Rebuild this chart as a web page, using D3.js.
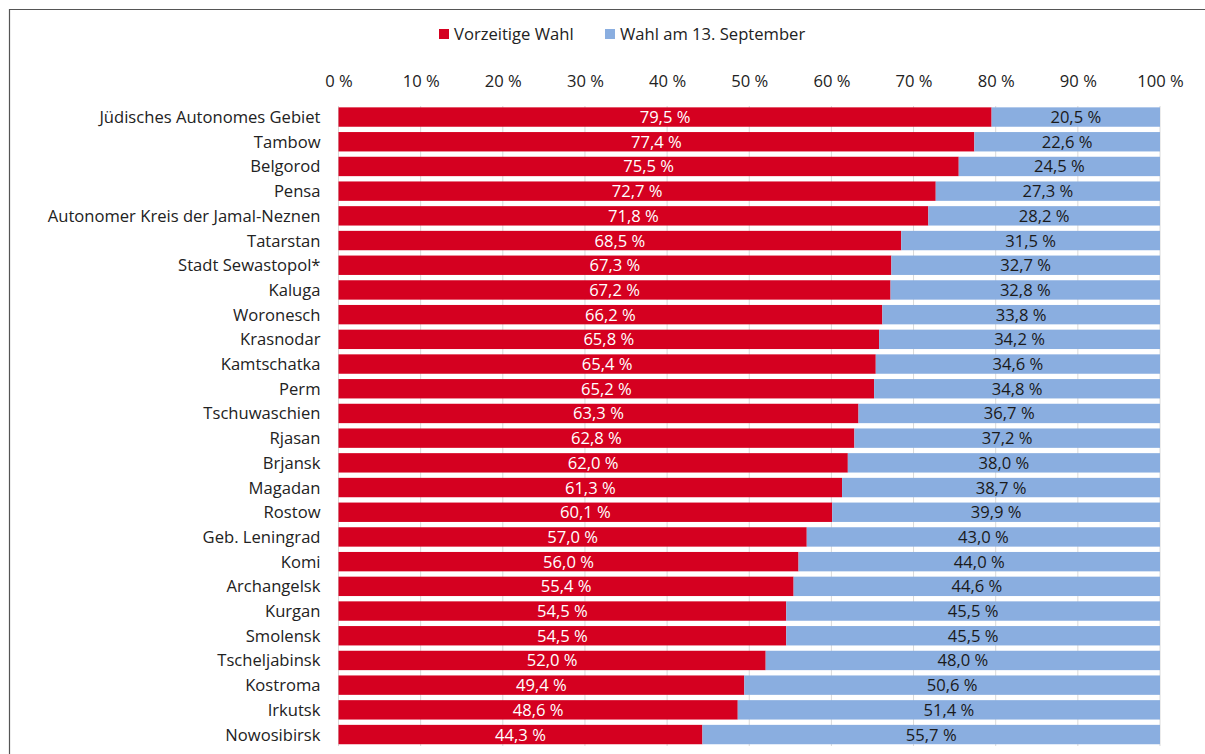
<!DOCTYPE html>
<html><head><meta charset="utf-8">
<script src="https://cdn.jsdelivr.net/npm/d3@7"></script>
<style>
html,body{margin:0;padding:0;background:#fff;}
svg{display:block;font-family:"Open Sans","Noto Sans",sans-serif;}
</style></head>
<body>
<svg id="chart" width="1205" height="754"></svg>
<script>
const categories = ["Jüdisches Autonomes Gebiet","Tambow","Belgorod","Pensa","Autonomer Kreis der Jamal-Neznen","Tatarstan","Stadt Sewastopol*","Kaluga","Woronesch","Krasnodar","Kamtschatka","Perm","Tschuwaschien","Rjasan","Brjansk","Magadan","Rostow","Geb. Leningrad","Komi","Archangelsk","Kurgan","Smolensk","Tscheljabinsk","Kostroma","Irkutsk","Nowosibirsk"];
const vorzeitig = [79.5,77.4,75.5,72.7,71.8,68.5,67.3,67.2,66.2,65.8,65.4,65.2,63.3,62.8,62.0,61.3,60.1,57.0,56.0,55.4,54.5,54.5,52.0,49.4,48.6,44.3];
const september = [20.5,22.6,24.5,27.3,28.2,31.5,32.7,32.8,33.8,34.2,34.6,34.8,36.7,37.2,38.0,38.7,39.9,43.0,44.0,44.6,45.5,45.5,48.0,50.6,51.4,55.7];
const seriesNames = ["Vorzeitige Wahl","Wahl am 13. September"];
const tickValues = [0,10,20,30,40,50,60,70,80,90,100];

const colors = ["#d50020","#8aaee0"];
const FS = 16.6;
const svg = d3.select("#chart");

// frame
svg.append("path").attr("d","M9.5,754 V9.5 H1205").attr("fill","none").attr("stroke","#555").attr("stroke-width",1.2);

const x = d3.scaleLinear().domain([0,100]).range([338.5,1160]);
const y = d3.scaleBand().domain(categories).range([104.7,746.9]).paddingInner(0.215).paddingOuter(0.1075);

// gridlines
svg.append("g").selectAll("line").data(tickValues).join("line")
  .attr("x1",d=>x(d)).attr("x2",d=>x(d)).attr("y1",106).attr("y2",746)
  .attr("stroke","#d9d9d9").attr("stroke-width",1);

// top axis labels
const xAxis = d3.axisTop(x).tickValues(tickValues).tickSize(0).tickPadding(0).tickFormat(d=>d+" %");
const ga = svg.append("g").attr("transform","translate(0,81)").call(xAxis);
ga.select(".domain").remove();
ga.selectAll("text").attr("font-size",FS).attr("fill","#222").attr("font-family","'Open Sans',sans-serif").attr("dy","0.36em");

// category labels
const yAxis = d3.axisLeft(y).tickSize(0).tickPadding(18);
const gy = svg.append("g").attr("transform","translate(338.5,0)").call(yAxis);
gy.select(".domain").remove();
gy.selectAll("text").attr("font-size",FS).attr("fill","#222").attr("font-family","'Open Sans',sans-serif").attr("dy","0.36em");

const data = categories.map((c,i)=>({c, a:vorzeitig[i], b:september[i]}));

const rows = svg.append("g").selectAll("g").data(data).join("g");
rows.append("rect").attr("x",x(0)).attr("y",d=>y(d.c)).attr("width",d=>x(d.a)-x(0)).attr("height",y.bandwidth()).attr("fill",colors[0]);
rows.append("rect").attr("x",d=>x(d.a)).attr("y",d=>y(d.c)).attr("width",d=>x(d.a+d.b)-x(d.a)).attr("height",y.bandwidth()).attr("fill",colors[1]);

const lbl = v => v.toFixed(1).replace(".",",") + " %";
rows.append("text").attr("x",d=>(x(0)+x(d.a))/2).attr("y",d=>y(d.c)+y.bandwidth()/2).attr("dy","0.36em")
  .attr("text-anchor","middle").attr("fill","#fff").attr("font-size",FS).text(d=>lbl(d.a));
rows.append("text").attr("x",d=>(x(d.a)+x(d.a+d.b))/2).attr("y",d=>y(d.c)+y.bandwidth()/2).attr("dy","0.36em")
  .attr("text-anchor","middle").attr("fill","#1a1a1a").attr("font-size",FS).text(d=>lbl(d.b));

// legend
const leg = svg.append("g");
const legX = [439,605];
seriesNames.forEach((n,i)=>{
  leg.append("rect").attr("x",legX[i]).attr("y",29).attr("width",10).attr("height",10).attr("fill",colors[i]);
  leg.append("text").attr("x",legX[i]+15).attr("y",34).attr("dy","0.36em").attr("font-size",FS).attr("fill","#222").text(n);
});
</script>
</body></html>
